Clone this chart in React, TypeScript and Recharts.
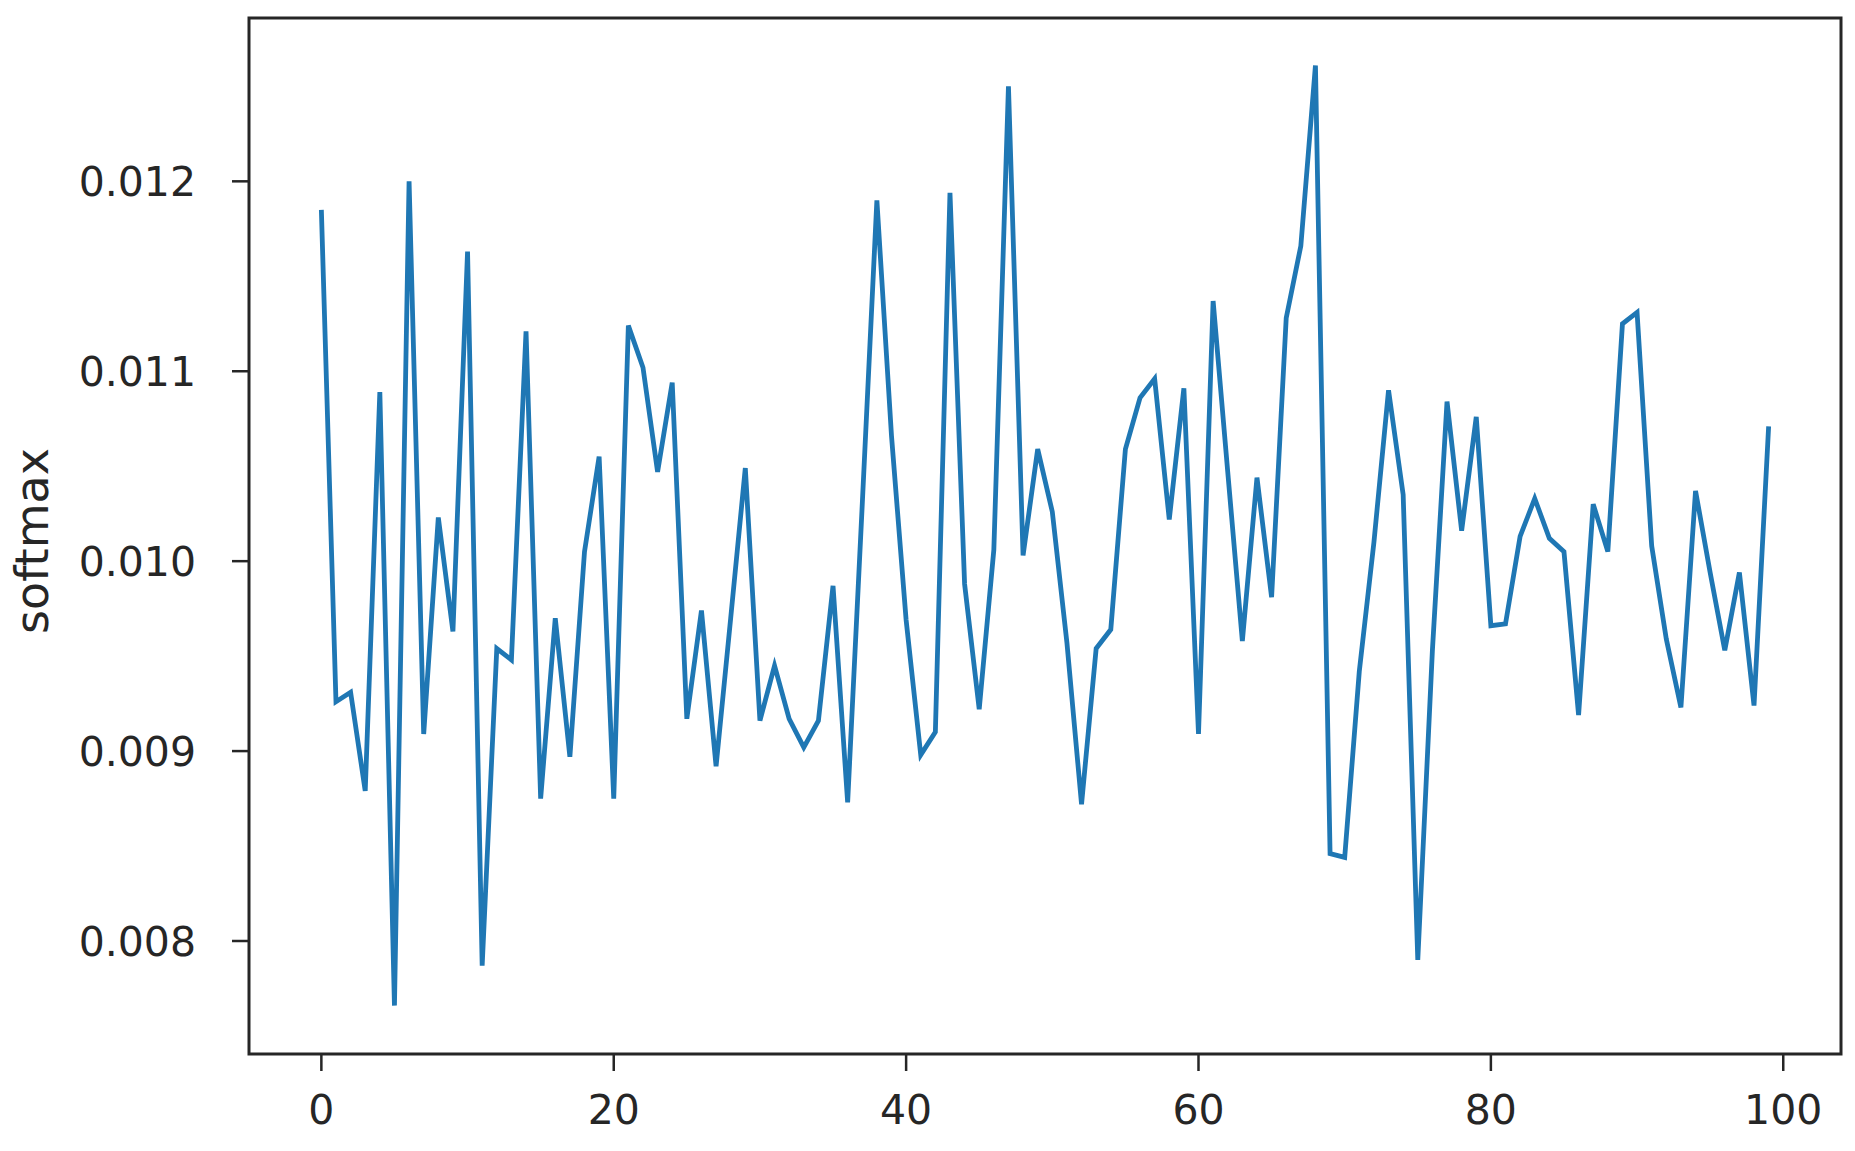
import React from 'react';
import { LineChart, Line, XAxis, YAxis, ReferenceArea } from 'recharts';

const softmaxValues: number[] = [
  0.01185, 0.00926, 0.00931, 0.00879, 0.01089, 0.00766, 0.012, 0.00909, 0.01023, 0.00963,
  0.01163, 0.00787, 0.00954, 0.00948, 0.01121, 0.00875, 0.0097, 0.00897, 0.01005, 0.01055,
  0.00875, 0.01124, 0.01102, 0.01047, 0.01094, 0.00917, 0.00974, 0.00892, 0.0097, 0.01049,
  0.00916, 0.00945, 0.00917, 0.00902, 0.00916, 0.00987, 0.00873, 0.0103, 0.0119, 0.01066,
  0.00969, 0.00898, 0.0091, 0.01194, 0.00988, 0.00922, 0.01006, 0.0125, 0.01003, 0.01059,
  0.01026, 0.00957, 0.00872, 0.00954, 0.00964, 0.01059, 0.01086, 0.01096, 0.01022, 0.01091,
  0.00909, 0.01137, 0.01047, 0.00958, 0.01044, 0.00981, 0.01128, 0.01166, 0.01261, 0.00846,
  0.00844, 0.00942, 0.0101, 0.0109, 0.01035, 0.0079, 0.00953, 0.01084, 0.01016, 0.01076,
  0.00966, 0.00967, 0.01013, 0.01033, 0.01012, 0.01005, 0.00919, 0.0103, 0.01005, 0.01125,
  0.01131, 0.01008, 0.00959, 0.00923, 0.01037, 0.00994, 0.00953, 0.00994, 0.00924, 0.01071,
];

const xTicks: number[] = [0, 20, 40, 60, 80, 100];
const yTicks: number[] = [0.008, 0.009, 0.01, 0.011, 0.012];
const yLabel = 'softmax';

const X_MIN = -4.95;
const X_MAX = 103.95;
const Y_MIN = 0.007405;
const Y_MAX = 0.01286;

const data = softmaxValues.map((v, i) => ({ step: i, softmax: v }));

const FONT = '"DejaVu Sans", sans-serif';
const TEXT = '#262626';
const FS = 41;

const YLabel = () => (
  <text
    x={32}
    y={541}
    transform="rotate(-90, 32, 541)"
    textAnchor="middle"
    dominantBaseline="central"
    fontFamily={FONT}
    fontSize={46}
    fill={TEXT}
  >
    {yLabel}
  </text>
);

export default function App() {
  return (
    <div style={{ position: 'absolute', left: 0, top: 0, background: '#fff' }}>
      <LineChart
        width={1855}
        height={1151}
        data={data}
        margin={{ top: 18, right: 14, bottom: 0, left: 0 }}
      >
        <XAxis
          dataKey="step"
          type="number"
          domain={[X_MIN, X_MAX]}
          allowDataOverflow
          ticks={xTicks}
          height={97}
          axisLine={false}
          tickLine={{ stroke: TEXT, strokeWidth: 2.5 }}
          tickSize={17}
          tickMargin={24}
          tick={{ fontFamily: FONT, fontSize: FS, fill: TEXT }}
        />
        <YAxis
          type="number"
          domain={[Y_MIN, Y_MAX]}
          allowDataOverflow
          ticks={yTicks}
          width={249}
          axisLine={false}
          tickLine={{ stroke: TEXT, strokeWidth: 2.5 }}
          tickSize={17}
          tickMargin={36}
          tickFormatter={(v: number) => v.toFixed(3)}
          tick={{ fontFamily: FONT, fontSize: FS, fill: TEXT }}
          label={<YLabel />}
        />
        <ReferenceArea
          x1={X_MIN}
          x2={X_MAX}
          y1={Y_MIN}
          y2={Y_MAX}
          fill="none"
          stroke={TEXT}
          strokeWidth={3}
          ifOverflow="visible"
        />
        <Line
          type="linear"
          dataKey="softmax"
          stroke="#1f77b4"
          strokeWidth={4.8}
          dot={false}
          isAnimationActive={false}
        />
      </LineChart>
    </div>
  );
}
